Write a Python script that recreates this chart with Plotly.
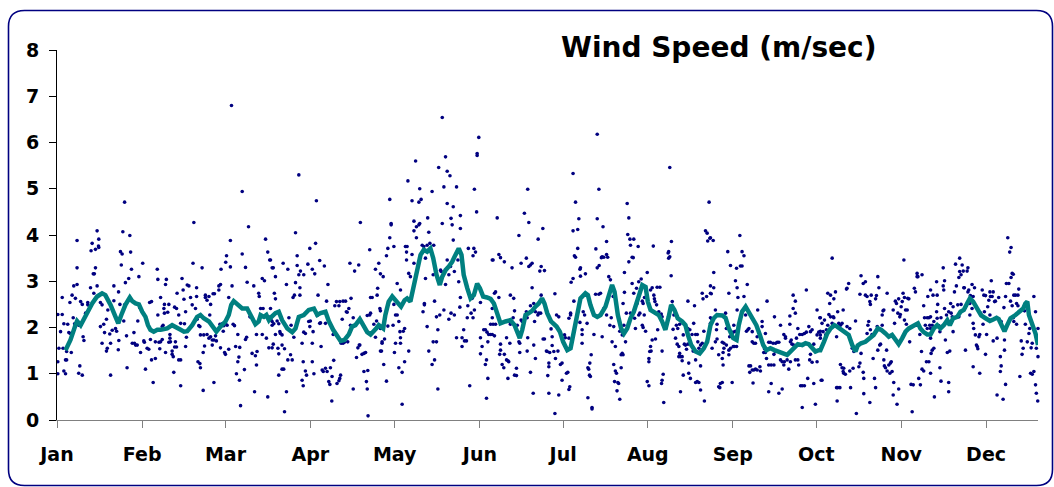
import plotly.graph_objects as go

# ---------------- data ----------------
# x unit: day of the year (axis spans 0..357), y: wind speed in m/sec
months = ["Jan", "Feb", "Mar", "Apr", "May", "Jun", "Jul", "Aug", "Sep", "Oct", "Nov", "Dec"]
month_ticks = [0, 31, 61.3, 92.2, 122.9, 153.9, 184.2, 215.0, 245.9, 276.3, 307.2, 338.1]
x_end = 357.0

obs_jan = [(0.3,2.28),(1.9,2.28),(1.9,2.65),(2.5,2.08),(1.3,1.91),(0.7,1.55),(0.3,1.26),(0.3,1.0),(2.5,1.06),(3.1,1.0),(3.5,1.3),(3.1,1.3),(2.2,1.55),(3.5,1.48),(3.9,2.07),(4.3,1.89),(5.2,1.46),(4.7,2.54),(5.5,2.7),(6.1,2.9),(7.3,2.93),(7.3,3.29),(7.3,3.88),(5.9,2.21),(4.9,1.87),(6.7,2.63),(6.4,2.08),(8.6,2.56),(9.2,2.5),(7.9,2.05),(9.5,1.8),(9.8,1.72),(8.3,1.17),(7.9,1.01),(9.2,0.97),(10.4,2.31),(10.7,2.29),(11.2,2.54),(11.2,2.49),(12.2,2.86),(12.8,3.82),(12.4,3.66),(14.0,3.69),(14.6,4.09),(15.2,3.91),(15.2,3.73),(15.1,3.76),(14.0,3.29),(13.2,3.16),(13.6,3.16),(13.4,2.74),(14.6,2.9),(15.8,2.54),(16.4,2.49),(15.8,2.02),(17.0,2.07),(16.4,1.66),(17.3,1.89),(18.3,1.55),(18.0,1.49),(18.5,2.38),(18.0,2.18),(19.2,1.86),(19.5,1.66),(19.5,0.97),(20.1,1.94),(20.7,2.9),(20.7,2.58),(21.3,1.98),(21.7,1.92),(22.4,2.77),(22.5,1.72),(22.3,1.52),(22.9,2.5),(23.1,3.64),(23.7,3.59),(23.4,3.35),(23.96,4.07),(24.6,4.71),(24.9,2.97),(24.6,2.49),(24.3,2.14),(25.3,1.82),(25.5,1.13),(26.5,3.99),(26.8,3.63),(26.1,3.06),(27.1,3.26),(27.4,1.66),(28.0,1.89),(28.2,1.66),(28.6,1.62),(29.2,1.62),(29.4,2.14),(29.8,3.10),(30.1,2.43),(30.4,1.46),(31.2,3.39),(31.6,1.71),(31.8,1.68),(32.2,1.10),(32.8,1.55),(33.4,1.53),(33.7,2.54),(34.0,1.74),(34.4,2.56),(34.4,1.30),(35.0,0.81),(35.8,1.33),(35.8,1.69),(37.1,1.68),(36.5,3.26),(36.7,3.04),(36.7,2.27),(37.7,2.65),(37.4,1.54),(38.3,2.02)]

obs_feb = [(39.1,2.5),(39.8,3.04),(39.5,2.93),(38.9,2.41),(39.1,2.31),(38.3,1.74),(37.7,1.69),(39.5,1.46),(38.6,2.05),(40.7,2.5),(40.3,2.33),(41.1,1.85),(41.1,1.77),(41.3,1.69),(40.7,1.68),(41.9,1.49),(42.3,1.37),(41.9,1.42),(42.8,1.58),(42.5,1.03),(42.8,2.44),(43.5,2.41),(44.3,2.27),(43.7,2.74),(45.5,3.06),(45.9,2.81),(43.1,1.69),(43.5,1.58),(44.3,1.30),(45.0,1.30),(45.0,0.74),(45.0,2.09),(46.4,2.08),(46.8,2.34),(46.2,2.61),(47.4,2.92),(48.0,2.90),(47.1,1.79),(46.8,1.59),(48.6,2.65),(49.2,2.49),(49.5,3.39),(49.8,4.27),(50.8,2.86),(50.8,2.67),(50.4,2.41),(51.0,2.18),(51.6,2.04),(52.0,2.02),(52.2,1.84),(51.3,1.26),(52.0,1.22),(52.2,1.13),(52.8,3.29),(53.2,0.64),(53.2,1.46),(53.7,1.60),(53.4,1.84),(54.0,2.65),(54.0,2.70),(54.6,2.59),(55.3,2.67),(55.9,2.50),(55.6,2.27),(54.6,1.85),(55.3,1.77),(55.9,1.80),(56.5,1.73),(57.1,1.73),(57.7,1.82),(58.0,1.71),(56.5,1.62),(57.1,0.81),(56.8,2.73),(57.3,2.73),(58.9,2.81),(58.9,2.90),(59.5,2.93),(59.7,3.26),(59.3,2.07),(60.1,2.08),(60.7,2.04),(61.3,2.09),(61.9,2.05),(61.0,1.46),(61.3,1.42),(59.5,1.56),(60.5,1.92),(61.4,3.41),(61.7,3.55),(62.5,2.65),(63.1,3.31),(63.1,3.88),(62.5,1.53),(63.7,2.90),(63.5,6.80),(64.1,2.07),(64.6,2.04),(65.0,1.59),(65.3,1.00),(65.8,1.26),(66.2,1.36),(66.4,0.86),(66.8,0.31),(66.5,1.57),(65.8,1.85),(67.4,4.94),(67.4,3.59),(68.2,1.09),(68.6,3.30),(68.6,1.74),(69.0,1.79),(69.2,2.98),(69.7,4.18),(69.8,2.34),(70.2,2.23),(71.0,1.44),(71.6,2.90),(71.9,0.61),(72.2,1.39),(72.6,1.19),(72.8,1.48),(72.6,1.85),(73.4,2.74),(73.6,2.67),(74.1,2.41),(74.7,3.06),(75.5,3.01),(74.7,1.85),(75.0,2.41),(75.9,3.91),(76.7,0.50),(76.7,3.63),(77.4,3.46),(78.3,3.29),(76.2,1.77),(77.1,1.56),(77.7,2.41),(77.9,2.16),(78.3,2.13)]

obs_mar = [(77.7,3.46),(78.7,3.29),(79.5,3.10),(79.1,2.74),(79.5,2.62),(77.7,2.23),(78.3,2.05),(78.9,2.08),(80.1,2.14),(80.7,2.08),(79.5,1.85),(80.4,1.55),(81.1,1.91),(81.3,1.87),(81.9,1.84),(78.7,1.64),(78.3,1.56),(80.7,1.43),(81.9,1.62),(82.8,1.54),(82.5,1.10),(81.9,1.10),(80.7,0.97),(82.3,3.39),(84.0,3.26),(83.5,2.93),(83.5,0.61),(82.8,0.18),(84.4,2.21),(85.2,2.05),(85.0,1.41),(85.6,1.30),(84.0,1.30),(85.9,2.65),(86.4,2.70),(86.8,2.97),(86.8,4.05),(87.4,3.55),(88.0,5.30),(87.4,3.34),(88.0,3.14),(88.6,3.22),(88.4,2.86),(88.4,2.70),(86.2,1.79),(89.2,1.66),(89.6,1.26),(89.8,3.14),(89.8,1.90),(90.4,1.87),(90.4,1.06),(90.8,0.97),(89.2,0.86),(89.6,0.74),(91.3,3.37),(92.0,3.71),(92.9,3.26),(93.8,3.16),(94.1,3.82),(91.6,2.13),(92.0,2.02),(92.2,2.14),(93.2,1.91),(92.9,1.66),(92.9,1.26),(93.5,1.00),(94.4,4.74),(95.0,2.70),(95.6,3.45),(95.6,2.09),(95.9,2.10),(94.7,2.26),(96.1,1.59),(96.5,1.08),(96.9,1.05),(97.7,1.12),(98.3,1.05),(97.3,3.33),(98.1,2.57),(98.6,2.93),(97.7,2.09),(98.9,0.83),(99.3,0.77),(99.5,1.13),(100.1,0.94),(100.0,0.41),(100.7,1.29),(100.5,1.85),(101.1,2.47),(101.7,2.56),(101.9,0.79),(102.6,0.85),(102.9,0.90),(103.2,0.97),(102.6,2.47),(102.9,2.56),(103.8,2.18),(104.1,2.57),(105.0,2.57),(105.3,2.34),(105.6,2.33),(106.2,2.41),(107.0,2.63),(103.4,1.66),(104.1,1.66),(104.6,1.68),(105.8,1.69),(106.6,3.39),(108.3,3.22),(109.8,3.35),(106.8,2.05),(107.8,2.21),(107.8,0.67),(109.0,1.35),(109.5,1.56),(110.0,1.62),(110.2,1.62),(111.0,1.42),(111.7,1.44),(112.3,1.46),(110.4,4.27),(111.7,1.05),(113.1,1.07),(112.6,0.83),(112.9,0.67),(112.9,2.26),(113.8,2.27),(114.1,2.31),(114.1,2.65),(114.7,2.65),(116.5,2.70),(116.7,2.85),(113.8,3.68),(115.9,3.26),(117.1,3.39),(117.7,3.16),(115.3,2.07),(116.3,2.14),(115.9,1.79),(117.5,2.41),(117.1,2.02),(117.7,1.49),(113.2,0.09),(118.3,1.66)]

obs_may = [(118.7,3.10),(117.7,2.36),(117.7,1.98),(118.3,1.69),(118.1,1.49),(119.2,1.75),(118.9,1.20),(119.9,0.84),(119.9,3.55),(120.4,3.71),(121.1,3.94),(121.1,4.77),(121.6,4.25),(121.6,4.22),(122.6,3.75),(120.4,2.03),(122.3,2.05),(122.6,2.50),(123.2,2.27),(123.8,2.27),(123.8,2.95),(125.0,2.81),(122.8,1.46),(123.2,1.66),(124.4,2.13),(124.8,1.91),(125.0,1.78),(125.0,1.66),(124.4,1.13),(125.6,1.03),(126.0,1.92),(126.5,1.98),(126.5,1.26),(125.6,0.34),(126.8,3.75),(127.4,3.75),(127.2,3.63),(127.2,3.46),(127.7,5.17),(128.0,3.17),(128.6,3.10),(129.2,3.58),(129.9,3.39),(128.0,1.49),(129.2,4.74),(130.5,5.60),(129.9,4.30),(130.8,4.18),(131.7,4.22),(132.0,4.25),(129.9,4.09),(130.8,3.94),(131.7,4.71),(132.0,5.0),(132.5,4.77),(132.9,3.78),(133.5,3.75),(134.7,3.78),(134.9,4.37),(135.3,4.06),(135.7,3.82),(136.5,4.94),(137.1,3.78),(134.1,3.50),(134.1,3.06),(133.2,2.34),(133.7,2.49),(133.7,2.52),(134.7,2.02),(135.3,1.49),(136.5,1.20),(136.9,1.69),(137.4,1.30),(138.1,1.69),(138.6,0.67),(137.4,2.57),(138.1,2.23),(139.3,2.27),(136.9,3.14),(138.6,1.95),(140.8,2.38),(142.6,2.18),(143.4,2.31),(144.6,2.27),(138.9,5.46),(140.2,6.54),(140.8,5.04),(141.4,5.69),(142.0,5.38),(143.0,5.28),(142.0,4.68),(143.4,4.36),(143.8,4.22),(144.2,4.61),(140.2,4.25),(139.6,3.24),(139.8,3.21),(141.4,2.93),(142.0,3.46),(142.6,3.14),(143.2,3.32),(144.2,3.89),(144.6,3.21),(145.4,5.04),(146.8,4.42),(146.8,4.14),(146.2,2.99),(145.9,3.46),(145.4,1.78),(146.8,2.65),(146.6,2.44),(147.4,1.78),(147.4,1.59),(148.0,1.95),(148.3,1.71),(149.0,1.71),(149.3,2.21),(149.5,2.47),(149.7,3.71),(151.7,3.71),(151.4,3.55),(152.3,3.63),(151.9,4.99),(152.7,4.50),(152.9,5.76),(152.9,5.72),(153.5,6.11),(150.2,0.74),(150.7,2.31),(151.4,2.21),(151.9,2.38),(151.1,2.63),(154.1,2.54),(154.1,1.78),(154.1,1.43),(154.7,1.59),(155.3,1.95),(155.9,1.95),(156.5,1.90),(157.1,1.85),(157.7,1.85),(156.8,1.69),(156.3,1.30),(155.9,1.20),(156.8,0.90),(156.3,0.47),(158.4,3.46),(158.4,2.41),(158.4,2.21)]

obs_jun = [(160.2,4.37),(158.7,3.46),(159.6,2.77),(159.2,2.74),(160.8,2.65),(160.8,3.58),(161.4,3.51),(162.8,3.42),(158.7,2.07),(159.6,2.07),(157.8,2.07),(158.4,1.85),(159.2,1.82),(161.4,1.64),(161.4,1.51),(161.1,1.42),(162.8,1.42),(162.0,1.20),(162.6,1.13),(163.6,1.30),(164.1,1.28),(164.4,1.26),(164.1,0.90),(163.6,1.78),(164.8,1.66),(165.6,3.29),(165.0,2.70),(166.2,2.63),(166.5,2.36),(166.0,2.21),(164.4,2.13),(165.0,2.07),(166.8,2.05),(167.5,2.05),(168.1,1.69),(168.4,1.66),(168.4,1.46),(167.2,1.12),(167.2,0.96),(166.5,0.97),(168.9,2.16),(169.3,2.13),(168.1,3.99),(168.9,3.39),(170.1,4.47),(170.8,3.50),(171.3,4.99),(171.7,4.27),(171.7,3.32),(172.3,3.35),(172.9,3.39),(172.9,2.86),(172.3,2.47),(170.8,2.34),(171.1,2.21),(171.3,1.78),(171.1,1.49),(172.3,1.03),(173.3,0.58),(173.5,2.52),(174.1,2.34),(173.8,2.13),(175.0,2.27),(175.3,2.31),(176.0,2.31),(176.2,2.70),(173.5,1.62),(174.1,1.33),(175.1,3.91),(175.7,3.22),(176.2,3.32),(176.8,4.14),(177.4,3.23),(176.9,1.75),(177.4,1.75),(178.1,1.49),(178.4,1.48),(179.0,1.23),(179.0,1.15),(178.6,0.96),(179.3,1.46),(179.8,1.97),(180.2,1.80),(180.2,1.61),(180.8,1.48),(181.4,1.33),(182.3,1.49),(179.6,2.14),(179.0,0.58),(181.2,0.14),(181.2,2.73),(181.8,2.27),(182.6,2.23),(182.6,0.54),(183.2,1.20),(183.8,1.23),(183.8,0.86),(184.7,1.84),(185.0,1.78),(185.4,1.01),(185.9,1.03),(186.3,0.66),(186.6,0.72),(186.3,2.20),(186.9,2.27),(186.9,2.31),(186.3,1.77),(187.1,2.98),(187.8,3.06),(188.1,2.57),(187.8,5.33),(188.7,4.71),(189.5,4.12),(187.8,4.09),(189.9,4.35),(188.3,3.55),(188.7,3.52),(189.5,3.71),(190.3,3.26),(190.5,3.29),(190.5,3.11),(192.3,3.16),(191.1,1.95),(191.1,1.85),(191.1,1.66),(190.3,2.11),(191.5,2.34),(192.0,2.27),(192.9,2.09),(193.2,0.48),(194.7,0.27),(194.7,0.24),(193.2,1.13),(193.5,1.10),(193.9,1.23),(194.1,0.94),(193.8,0.97),(194.4,1.41),(195.4,1.85),(196.0,2.72),(197.2,2.72),(197.8,2.74),(196.1,3.70),(196.6,3.29),(197.3,3.34),(196.6,4.35),(197.2,4.99),(196.6,6.18),(198.1,3.51)]

obs_jul = [(198.7,4.18),(200.0,3.86),(198.4,3.53),(199.0,3.52),(200.4,3.52),(200.0,3.58),(199.0,2.41),(200.8,3.10),(201.4,3.03),(202.4,2.67),(197.8,2.27),(198.4,1.80),(201.2,2.05),(201.7,2.21),(202.6,2.02),(200.0,2.27),(202.0,1.69),(203.2,1.59),(202.6,1.20),(203.2,1.06),(203.6,1.01),(202.9,0.83),(204.1,0.81),(204.4,0.79),(203.8,0.63),(204.8,0.45),(205.3,1.41),(206.0,1.41),(205.7,1.44),(205.3,1.13),(204.8,1.92),(205.7,1.84),(206.9,1.69),(206.3,2.05),(206.5,3.19),(206.5,2.76),(207.2,2.31),(206.0,2.52),(207.5,4.68),(208.1,4.37),(207.7,4.01),(208.5,3.91),(209.9,3.91),(208.7,3.78),(209.7,3.51),(209.3,3.52),(208.1,3.42),(211.5,3.75),(208.7,2.31),(209.3,2.95),(209.9,2.74),(210.2,2.20),(210.5,1.98),(210.9,2.85),(211.7,2.99),(212.6,3.05),(211.1,2.52),(211.7,2.27),(212.1,2.31),(213.0,2.57),(213.3,2.52),(213.8,2.65),(213.0,2.05),(213.3,2.00),(214.2,1.92),(214.8,3.19),(216.0,2.81),(216.6,2.86),(213.7,2.27),(217.2,2.70),(217.4,2.62),(217.6,2.56),(218.2,2.49),(215.4,1.33),(215.7,1.48),(216.0,1.59),(216.2,1.49),(215.4,1.26),(216.6,1.73),(217.8,1.75),(214.8,0.83),(215.4,0.74),(217.0,3.76),(218.4,2.87),(219.4,2.87),(219.0,2.34),(219.4,2.27),(219.9,2.29),(220.2,2.23),(220.8,2.05),(218.6,1.95),(220.2,1.49),(220.6,0.99),(220.2,0.86),(220.0,0.79),(220.8,0.38),(222.6,3.64),(222.6,3.50),(223.0,3.53),(222.4,3.61),(223.6,3.86),(223.0,5.46),(223.5,3.12),(223.9,2.56),(224.5,2.27),(224.2,1.96),(225.4,2.05),(225.9,1.98),(226.6,2.07),(225.1,1.77),(225.7,1.64),(226.3,1.59),(226.6,1.44),(226.3,1.37),(226.9,1.37),(227.5,1.28),(227.9,0.97),(226.9,0.61),(227.5,1.37),(227.9,1.84),(228.3,1.64),(228.7,1.62),(229.6,1.64),(229.1,1.53),(229.6,2.57),(232.0,2.47),(229.6,1.98),(230.3,1.95),(231.1,1.85),(231.7,2.09),(232.4,1.85),(233.0,1.85),(229.9,1.01),(230.5,0.90),(229.9,1.23),(231.5,1.49),(232.4,1.30),(232.4,0.81),(233.0,0.83),(233.6,0.81),(234.2,0.65),(235.6,0.41),(233.2,1.69),(233.6,1.55),(234.2,1.62),(234.2,1.17),(234.8,1.66),(235.4,1.92),(234.8,2.74),(235.1,2.62),(236.4,2.67),(236.0,4.09),(236.6,4.04),(236.8,3.87),(237.6,3.93),(237.3,4.71),(237.8,2.90),(237.8,2.74),(237.8,2.21),(238.4,2.18)]

obs_sep = [(237.8,3.94),(238.8,3.88),(239.0,3.19),(239.0,2.86),(238.1,2.73),(239.6,2.38),(237.8,2.09),(240.2,2.07),(240.0,1.95),(240.2,1.75),(238.4,1.55),(239.6,1.69),(240.8,1.41),(242.1,1.33),(242.4,1.46),(242.7,1.55),(242.1,1.68),(242.7,1.66),(243.6,1.62),(242.4,1.19),(241.4,0.79),(240.8,0.72),(241.2,0.70),(242.1,0.81),(243.3,2.31),(243.6,1.98),(244.1,3.64),(244.5,2.74),(245.1,3.34),(244.8,1.80),(244.5,1.51),(244.5,1.41),(245.1,1.55),(245.7,0.81),(246.1,1.59),(246.5,1.59),(247.3,1.59),(246.3,2.05),(246.9,1.92),(246.1,1.90),(247.3,3.28),(246.9,3.01),(247.5,2.86),(247.8,2.65),(247.5,2.38),(248.7,3.33),(249.3,3.33),(248.5,3.99),(249.3,3.64),(250.0,3.55),(250.0,2.67),(251.2,2.93),(250.6,2.27),(250.9,1.92),(251.4,1.95),(251.8,1.98),(253.0,1.91),(253.0,1.69),(253.6,1.66),(254.2,1.66),(251.8,1.17),(252.1,1.03),(252.4,1.17),(253.0,1.08),(253.6,1.08),(254.2,1.10),(254.8,1.08),(255.8,1.15),(256.0,1.06),(253.3,0.80),(254.8,1.80),(255.0,2.38),(256.6,2.13),(256.6,2.02),(257.2,1.46),(257.8,1.46),(257.5,1.54),(257.8,1.87),(258.4,2.57),(258.2,1.33),(259.0,1.19),(259.9,1.19),(260.9,1.19),(259.0,0.61),(259.9,0.79),(259.0,1.68),(259.6,1.68),(260.6,1.66),(261.5,1.66),(262.1,1.68),(262.7,1.68),(260.9,1.42),(261.5,1.48),(261.1,2.23),(263.3,2.05),(262.7,0.58),(263.9,0.67),(263.3,1.30),(263.9,1.26),(264.5,1.19),(264.7,1.26),(264.5,1.85),(265.1,1.80),(265.1,1.77),(265.7,1.30),(266.3,1.10),(266.9,1.26),(266.7,2.25),(266.7,2.07),(266.9,1.69),(267.5,1.64),(267.9,2.41),(268.7,2.31),(267.9,2.70),(268.7,2.57),(268.1,1.62),(267.2,1.73),(269.1,1.77),(269.6,1.98),(270.3,1.85),(271.2,1.85),(272.0,1.87),(272.7,1.90),(268.7,1.30),(269.6,1.30),(269.9,1.19),(270.6,0.74),(271.2,0.74),(272.0,0.74),(271.2,0.27),(272.7,2.81),(273.2,0.90),(273.9,1.30),(274.2,1.42),(274.8,1.25),(275.4,0.79),(276.0,0.34),(276.6,1.26),(273.6,2.02),(274.2,1.91),(274.8,1.95),(275.4,1.64),(276.6,1.84),(277.2,1.90),(277.8,1.92),(277.8,1.77),(276.6,2.38),(277.6,2.21),(278.1,0.86)]

obs_oct = [(277.8,2.21),(278.4,2.09),(279.3,2.16),(278.8,1.91),(277.8,1.84),(279.7,1.84),(280.0,1.95),(280.5,2.74),(281.2,2.52),(281.5,2.70),(282.1,3.50),(282.7,2.62),(283.3,2.77),(282.5,2.23),(280.9,2.28),(281.5,2.23),(282.1,2.09),(282.7,2.21),(280.5,2.05),(278.4,0.86),(283.7,1.80),(284.1,2.34),(284.5,2.09),(285.1,2.05),(285.7,2.09),(286.1,2.38),(283.7,0.70),(284.1,0.70),(284.9,0.70),(283.9,0.41),(285.1,1.20),(285.7,1.13),(286.1,1.05),(286.3,1.01),(286.9,0.99),(286.3,1.12),(287.3,2.83),(287.5,2.85),(288.1,2.95),(287.5,2.02),(288.5,1.98),(288.8,0.70),(289.0,1.69),(289.4,1.55),(290.0,1.48),(290.6,2.14),(289.7,1.12),(288.5,1.06),(290.9,0.14),(291.8,1.15),(292.2,1.23),(292.6,1.44),(293.4,1.03),(293.6,0.90),(293.6,0.57),(292.2,2.72),(292.6,3.12),(293.4,2.95),(294.2,2.99),(294.2,2.70),(294.8,1.87),(295.1,2.05),(295.4,2.13),(296.0,2.50),(295.8,2.56),(296.3,2.70),(294.8,2.67),(296.0,1.95),(296.6,1.85),(295.8,0.38),(297.0,1.33),(297.5,0.90),(297.9,0.70),(297.9,2.62),(298.2,2.69),(298.7,3.10),(299.1,2.86),(298.5,2.02),(298.7,1.51),(299.4,1.62),(299.7,1.64),(300.3,2.05),(300.3,2.27),(300.6,2.36),(300.9,2.38),(300.9,1.30),(301.1,1.17),(301.5,1.13),(301.9,1.51),(302.1,1.06),(302.7,1.19),(303.3,1.23),(303.6,1.26),(303.1,1.01),(303.9,1.05),(302.1,2.74),(303.3,1.82),(304.3,2.38),(304.8,2.09),(305.1,2.57),(305.5,2.52),(306.0,2.31),(306.3,2.62),(306.7,2.23),(306.9,2.28),(304.5,0.81),(304.3,0.54),(305.7,0.34),(306.3,0.67),(307.2,2.45),(307.6,2.56),(307.9,2.74),(308.2,3.46),(308.4,2.65),(308.8,2.38),(309.4,2.38),(309.6,2.63),(310.0,2.62),(308.4,2.16),(309.1,2.07),(310.3,1.69),(310.8,0.77),(311.6,0.76),(311.2,0.18),(312.0,2.85),(312.4,2.77),(313.0,3.17),(313.0,3.10),(313.3,3.10),(312.8,2.05),(314.0,1.85),(313.6,0.90),(314.2,0.76),(314.6,1.48),(314.8,1.10),(315.4,1.06),(314.8,3.14),(315.4,2.47),(316.9,2.67),(317.9,2.81),(315.7,2.21),(316.0,2.05),(316.7,2.21),(317.3,2.21),(317.6,2.05),(317.9,1.98),(316.7,1.98),(316.4,1.26),(317.3,1.26),(317.9,1.01),(318.1,1.44)]

obs_nov = [(318.8,2.70),(317.9,2.23),(318.5,2.05),(319.1,2.13),(317.9,1.77),(318.5,1.51),(319.1,1.55),(320.1,2.99),(320.3,2.70),(320.5,2.50),(320.1,2.34),(320.3,2.20),(320.9,2.04),(319.3,0.50),(321.3,1.91),(321.7,2.21),(322.5,3.29),(322.5,2.90),(323.0,3.01),(322.7,2.81),(323.0,2.41),(323.3,1.73),(324.0,1.46),(324.9,1.49),(321.3,1.13),(321.7,0.84),(324.5,0.81),(324.5,0.61),(323.7,2.27),(324.5,2.34),(325.2,2.52),(325.4,2.31),(325.8,2.23),(326.1,2.45),(326.1,1.91),(326.6,2.77),(327.0,3.37),(327.3,2.90),(327.8,2.49),(328.2,2.23),(328.2,3.08),(328.5,3.50),(328.5,3.21),(329.0,3.14),(329.4,3.35),(329.8,3.22),(330.0,2.86),(330.2,2.86),(331.5,3.29),(331.2,3.22),(329.0,2.50),(330.6,1.51),(331.5,2.77),(331.8,2.81),(332.4,2.69),(332.2,2.52),(333.0,2.93),(333.4,2.67),(333.9,2.86),(332.2,2.27),(333.0,2.41),(333.4,2.09),(333.6,1.98),(334.2,1.84),(334.6,1.62),(334.9,1.59),(335.1,1.54),(335.5,1.80),(335.8,1.85),(333.4,1.15),(335.8,1.01),(336.1,2.31),(336.7,2.81),(337.3,2.70),(337.0,2.07),(337.9,2.69),(337.5,2.34),(337.9,1.42),(338.3,1.85),(338.7,2.45),(339.1,2.59),(339.5,2.77),(339.7,2.67),(340.0,3.01),(340.7,2.77),(341.5,2.57),(341.2,2.56),(340.3,2.67),(339.5,2.27),(340.7,1.71),(342.1,1.77),(342.7,2.65),(342.1,0.54),(343.3,1.37),(343.6,1.17),(343.3,1.05),(344.3,0.45),(345.2,0.77),(343.6,2.13),(344.6,2.43),(344.8,1.73),(344.8,1.51),(345.2,2.67),(345.5,2.95),(346.0,3.94),(346.7,3.63),(347.2,3.73),(347.6,3.17),(348.0,3.15),(347.2,3.08),(346.4,2.95),(347.0,2.57),(347.6,2.47),(348.0,2.21),(348.2,2.70),(348.8,2.70),(349.2,2.52),(349.7,2.70),(350.0,2.83),(349.7,2.47),(348.2,2.13),(349.2,2.07),(350.4,0.94),(350.9,1.71),(351.6,1.55),(351.2,1.42),(351.6,2.40),(352.1,2.36),(352.4,2.07),(353.3,2.45),(353.1,1.69),(353.7,1.87),(354.0,1.98),(354.9,1.66),(354.5,1.56),(354.3,1.01),(354.9,0.99),(355.5,1.05),(355.5,2.67),(356.1,2.34),(356.1,0.76),(356.4,0.58),(356.9,0.41),(357.0,1.37),(357.0,1.98),(356.4,1.55)]

trend_day = [3.1,4.9,6.7,7.3,8.6,9.8,11.0,12.8,14.6,16.4,17.6,19.5,21.3,22.3,23.4,24.9,26.5,27.4,28.6,29.8,31.0,32.2,33.1,34.0,35.2,36.5,
             37.7,40.1,41.9,43.1,45.0,46.2,47.4,49.2,51.0,52.2,53.4,55.3,57.1,58.0,59.5,61.3,62.5,63.4,64.3,65.6,67.4,69.2,70.4,72.2,73.4,74.1,75.3,76.2,77.1,
             77.7,79.5,80.7,81.9,83.8,85.6,86.8,88.0,89.8,91.6,93.5,94.7,95.9,97.7,98.9,100.5,101.9,103.2,104.6,106.2,107.4,108.6,110.2,111.4,112.9,114.1,115.3,116.3,117.1,
             118.7,119.5,120.7,122.0,123.2,124.4,125.2,126.5,127.4,128.6,129.9,131.1,132.3,133.5,134.7,135.9,136.9,138.1,139.3,140.2,141.4,142.6,143.8,145.0,146.2,147.2,148.0,149.3,150.5,151.7,152.9,153.9,155.1,156.5,
             157.8,159.0,160.2,161.4,163.2,165.0,166.5,167.7,168.4,169.3,170.5,171.7,172.9,174.1,175.3,176.5,177.4,178.4,179.8,181.8,183.0,184.2,185.7,186.9,187.8,189.0,190.5,192.3,193.2,194.1,195.4,196.6,
             197.8,199.6,200.8,202.0,202.9,204.1,205.3,206.3,207.5,208.7,209.9,211.4,213.0,214.2,215.0,216.0,217.4,219.0,220.2,221.4,222.6,223.5,224.7,225.9,227.5,228.7,229.6,230.8,232.4,233.9,235.4,236.6,
             237.8,239.0,240.2,242.1,243.3,244.5,246.1,247.3,248.1,249.3,250.6,251.8,253.0,254.5,255.8,257.0,258.2,259.6,261.1,262.7,264.3,265.7,266.9,268.4,269.6,271.2,272.4,273.6,274.8,276.0,277.2,
             277.8,279.1,280.3,281.5,282.9,283.9,285.4,286.9,288.1,289.4,290.6,291.4,292.6,294.2,296.0,297.2,298.7,299.9,301.5,302.7,303.9,305.1,306.3,307.6,308.8,310.0,311.2,312.4,313.3,314.2,315.4,316.7,
             317.9,319.1,320.3,321.5,322.7,324.0,324.9,326.1,327.6,328.8,330.0,331.2,332.2,333.4,334.9,336.3,337.9,339.5,340.9,341.9,342.7,343.9,344.8,345.8,347.0,348.8,350.4,351.6,352.4,353.1,353.7,354.9,356.1,357.0]
trend_speed = [1.51,1.73,2.05,2.14,2.05,2.20,2.34,2.52,2.67,2.74,2.70,2.49,2.23,2.09,2.27,2.49,2.65,2.57,2.52,2.50,2.34,2.23,2.05,1.95,1.91,1.95,
               1.95,1.98,2.05,2.02,1.95,1.91,1.92,2.05,2.23,2.27,2.20,2.13,1.98,1.91,2.02,2.13,2.27,2.49,2.57,2.49,2.41,2.41,2.27,2.07,2.13,2.27,2.23,2.27,2.16,
               2.21,2.31,2.34,2.16,1.98,1.90,1.98,2.23,2.27,2.38,2.41,2.27,2.31,2.34,2.14,1.95,1.84,1.71,1.73,1.85,2.02,2.05,2.18,2.05,1.90,1.85,1.91,1.99,2.05,
               1.98,2.27,2.56,2.67,2.59,2.49,2.45,2.59,2.63,2.56,2.92,3.24,3.57,3.68,3.64,3.71,3.50,3.14,2.92,3.10,3.24,3.32,3.42,3.57,3.71,3.57,3.14,2.85,2.63,2.70,2.95,2.85,2.67,2.65,
               2.62,2.52,2.27,2.09,2.13,2.16,2.05,1.87,1.77,1.95,2.27,2.31,2.36,2.45,2.52,2.63,2.52,2.31,2.13,2.02,1.91,1.69,1.51,1.55,1.84,2.27,2.63,2.74,2.70,2.49,2.27,2.23,
               2.27,2.45,2.70,2.92,2.77,2.27,1.98,1.87,1.98,2.20,2.34,2.59,2.92,2.88,2.56,2.38,2.33,2.27,2.13,1.95,2.23,2.49,2.38,2.20,2.13,2.05,1.84,1.62,1.48,1.44,1.55,1.69,
               2.05,2.20,2.27,2.26,2.21,1.98,1.77,1.73,2.05,2.34,2.45,2.34,2.23,2.05,1.84,1.62,1.51,1.55,1.51,1.48,1.44,1.41,1.48,1.59,1.64,1.62,1.66,1.64,1.54,1.48,1.51,
               1.51,1.69,1.87,1.98,2.05,2.02,1.95,1.91,1.84,1.62,1.48,1.61,1.66,1.69,1.77,1.84,1.98,1.95,1.87,1.80,1.84,1.73,1.64,1.77,1.91,1.98,2.02,2.07,2.09,1.98,1.90,1.85,
               1.85,1.98,2.05,1.98,2.05,2.16,2.05,2.20,2.23,2.34,2.38,2.52,2.63,2.56,2.41,2.26,2.20,2.14,2.18,2.21,2.18,2.02,1.92,2.05,2.20,2.27,2.34,2.41,2.52,2.56,2.27,2.05,1.87,1.62]

title_text = "Wind Speed (m/sec)"

# ---------------- figure ----------------
W, H = 1054, 487
ML, MR, MT, MB = 57, 16, 50, 67
PW, PH = W - ML - MR, H - MT - MB


def to_paper_x(px):
    return (px - ML) / PW


def to_paper_y(py):
    return (H - MB - py) / PH


segments = [obs_jan, obs_feb, obs_mar, obs_may, obs_jun, obs_jul, obs_sep, obs_oct, obs_nov]
obs_day = [p[0] for seg in segments for p in seg]
obs_speed = [p[1] for seg in segments for p in seg]

fig = go.Figure()
fig.add_trace(go.Scatter(
    x=obs_day, y=obs_speed, mode="markers",
    marker=dict(color="#000080", size=3.6, line=dict(width=0)),
    showlegend=False, hoverinfo="skip", cliponaxis=False,
))
fig.add_trace(go.Scatter(
    x=trend_day, y=trend_speed, mode="lines",
    line=dict(color="#008080", width=4.5),
    showlegend=False, hoverinfo="skip",
))

font_family = "DejaVu Sans, Verdana, sans-serif"

# rounded border of the chart
bl, br, bt, bb, rad = 8.5, 1052.5, 10.5, 485.5, 16
pts = {
    "a": (bl + rad, bt), "b": (br - rad, bt), "c": (br, bt), "d": (br, bt + rad),
    "e": (br, bb - rad), "f": (br, bb), "g": (br - rad, bb), "h": (bl + rad, bb),
    "i": (bl, bb), "j": (bl, bb - rad), "k": (bl, bt + rad), "l": (bl, bt),
}
P = {k: (to_paper_x(v[0]), to_paper_y(v[1])) for k, v in pts.items()}
fmt = lambda k: f"{P[k][0]:.5f},{P[k][1]:.5f}"
path = (f"M {fmt('a')} L {fmt('b')} Q {fmt('c')} {fmt('d')} L {fmt('e')} "
        f"Q {fmt('f')} {fmt('g')} L {fmt('h')} Q {fmt('i')} {fmt('j')} "
        f"L {fmt('k')} Q {fmt('l')} {fmt('a')} Z")

fig.update_layout(
    width=W, height=H,
    margin=dict(l=ML, r=MR, t=MT, b=MB, pad=0),
    paper_bgcolor="white", plot_bgcolor="white",
    font=dict(family=font_family, color="black"),
    shapes=[dict(type="path", path=path, xref="paper", yref="paper",
                 line=dict(color="#000080", width=1.6), fillcolor="rgba(0,0,0,0)",
                 layer="above")],
    annotations=[dict(text=title_text, x=to_paper_x(718), y=to_paper_y(47),
                      xref="paper", yref="paper", xanchor="center", yanchor="middle",
                      showarrow=False,
                      font=dict(family=font_family, size=28, color="black", weight="bold"))],
)
fig.update_xaxes(
    range=[0, x_end], tickmode="array", tickvals=month_ticks, ticktext=months,
    showgrid=False, zeroline=False, showline=True, linecolor="#808080", linewidth=1,
    ticks="outside", ticklen=7, tickcolor="#808080", tickwidth=1,
    tickfont=dict(family=font_family, size=19, color="black", weight="bold"),
    ticklabelstandoff=10,
)
fig.update_yaxes(
    range=[0, 8], tickmode="array", tickvals=list(range(0, 9)),
    showgrid=False, zeroline=False, showline=True, linecolor="black", linewidth=1,
    ticks="outside", ticklen=7, tickcolor="black", tickwidth=1,
    tickfont=dict(family=font_family, size=19, color="black", weight="bold"),
    ticklabelstandoff=6,
)

fig.write_html("out.html", config={"displayModeBar": False},
               post_script="document.body.style.margin='0';")
